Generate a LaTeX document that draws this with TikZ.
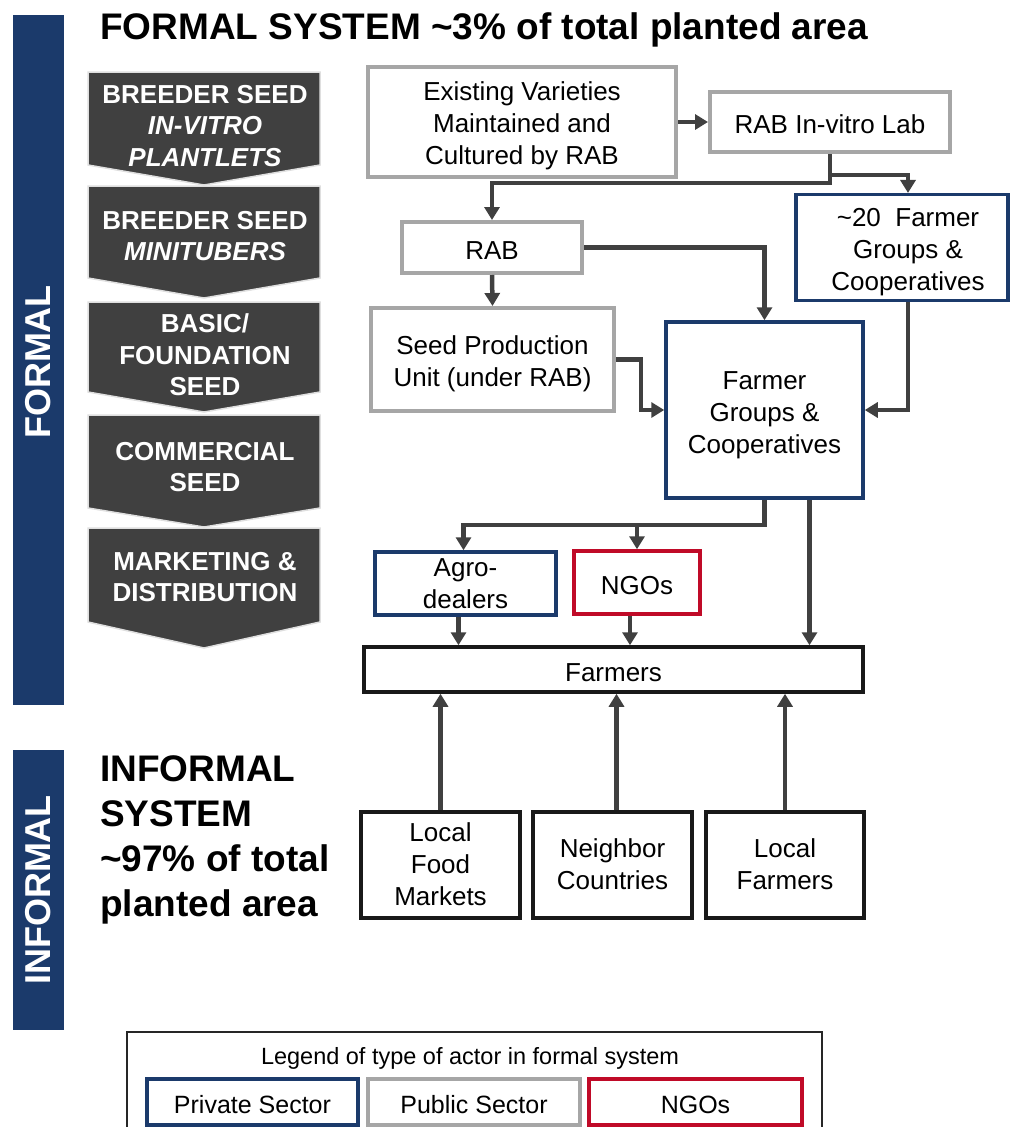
\documentclass[tikz,border=0pt]{standalone}
\usepackage{fontspec}
\setmainfont{Liberation Sans}
\usetikzlibrary{arrows.meta,calc}
\definecolor{navy}{HTML}{1B3A6B}
\definecolor{pubgray}{HTML}{A6A6A6}
\definecolor{ngored}{HTML}{C00A28}
\definecolor{chev}{HTML}{404040}
\definecolor{link}{HTML}{404040}

% centred lines of box text; the first argument sets the height of the first
% line, which lowers the block a little inside its box
\newcommand{\boxlines}[2]{\begin{tabular}{@{}c@{}}\rule{0pt}{#1}#2\end{tabular}}

\tikzset{
  actor/.style={draw, line width=3.5pt, fill=white, align=center, inner sep=0pt,
    font=\fontsize{26}{32}\selectfont},
  lowered/.style={execute at begin node={\rule{0pt}{#1}}},
  public/.style={actor, draw=pubgray, line width=4pt},
  private/.style={actor, draw=navy},
  ngo/.style={actor, draw=ngored},
  plain/.style={actor, draw=black!90},
  flow/.style={draw=link, line width=4.5pt, -{Triangle[length=13pt,width=15pt]}},
  stage/.style={fill=chev, draw=gray!25, line width=1.5pt},
  stagetext/.style={text=white, align=center, font=\bfseries\fontsize{26}{31.5}\selectfont},
  band/.style={fill=navy},
  bandtext/.style={text=white, rotate=90, font=\bfseries\fontsize{36}{40}\selectfont},
  legendbox/.style={actor, lowered=24pt, font=\fontsize{25}{30}\selectfont},
}

\begin{document}
\begin{tikzpicture}[x=1pt,y=-1pt]
\useasboundingbox (0,0) rectangle (1011,1127);
\clip (0,0) rectangle (1011,1127);

% side bands
\fill[band] (13,15) rectangle (64,705);
\fill[band] (13,750) rectangle (64,1030);
\node[bandtext] (formallbl) at (38,362) {FORMAL};
\node[bandtext] (informallbl) at (38,890) {INFORMAL};

% headings
\node[anchor=west, font=\bfseries\fontsize{37}{45}\selectfont, inner sep=0pt] (title) at (100,30)
  {FORMAL SYSTEM \textasciitilde3\% of total planted area};
\node[anchor=west, align=left, font=\bfseries\fontsize{37}{45}\selectfont, inner sep=0pt] (informal) at (100,840)
  {INFORMAL\\SYSTEM\\\textasciitilde97\% of total\\planted area};

% seed stages (chevrons)
\path[stage] (88,72)  -- (320,72)  -- (320,165) -- (204,185) -- (88,165) -- cycle;
\path[stage] (88,186) -- (320,186) -- (320,278) -- (204,298) -- (88,278) -- cycle;
\path[stage] (88,302) -- (320,302) -- (320,392) -- (204,412) -- (88,392) -- cycle;
\path[stage] (88,415) -- (320,415) -- (320,508) -- (204,527) -- (88,508) -- cycle;
\path[stage] (88,528) -- (320,528) -- (320,622) -- (204,648) -- (88,622) -- cycle;
\node[stagetext] (s1) at (205,126) {BREEDER SEED\\\textit{IN-VITRO}\\\textit{PLANTLETS}};
\node[stagetext] (s2) at (205,236) {BREEDER SEED\\\textit{MINITUBERS}};
\node[stagetext] (s3) at (205,355) {BASIC/\\FOUNDATION\\SEED};
\node[stagetext] (s4) at (205,467) {COMMERCIAL\\SEED};
\node[stagetext] (s5) at (205,577) {MARKETING \&\\DISTRIBUTION};

% actors
\node[public, minimum width=308, minimum height=110] (ev) at (522,122)
  {\boxlines{30.5pt}{Existing Varieties\\Maintained and\\Cultured by RAB}};
\node[public, lowered=24pt, minimum width=240, minimum height=60] (lab) at (830,122) {RAB In-vitro Lab};
\node[public, lowered=24pt, minimum width=180, minimum height=51] (rab) at (492,247.5) {RAB};
\node[private, minimum width=212, minimum height=95] (f20) at (902,247.5)
  {\hspace*{12pt}\boxlines{32pt}{\textasciitilde20\ \ Farmer\\Groups \&\\Cooperatives}};
\node[public, minimum width=243, minimum height=103] (seed) at (492.5,359.5)
  {\boxlines{32pt}{Seed Production\\Unit (under RAB)}};
\node[private, minimum width=197, minimum height=176] (fg) at (764.5,410)
  {\boxlines{32pt}{Farmer\\Groups \&\\Cooperatives}};
\node[private, minimum width=181, minimum height=63] (agro) at (465.5,583.5) {Agro-\\dealers};
\node[ngo, lowered=24pt, minimum width=126, minimum height=63] (ngos) at (637,582.5) {NGOs};
\node[plain, lowered=24pt, minimum width=499, minimum height=45] (farmers) at (613.5,669.5) {Farmers};
\node[plain, minimum width=159, minimum height=106] (lfm) at (440.5,865)
  {\boxlines{26.5pt}{Local\\Food\\Markets}};
\node[plain, minimum width=159, minimum height=106] (nc) at (612.5,865)
  {\boxlines{26.5pt}{Neighbor\\Countries}};
\node[plain, minimum width=158, minimum height=106] (lf) at (785,865)
  {\boxlines{26.5pt}{Local\\Farmers}};

% junctions of the branching connectors
\coordinate (labR) at (830,175);
\coordinate (labL) at (830,183);
\coordinate (seedturn) at (641,410);
\coordinate (fgsplit) at (764.5,525);

% connectors
\draw[flow] (ev.east) -- (lab.west);
\draw[flow] (lab.south) -- (labL) -| (rab.north);
\draw[flow] (labR) -| ([xshift=6pt]f20.north);
\draw[flow] (rab.east) -| (fg.north);
\draw[flow] (rab.south) -- (seed.north);
\draw[flow] (seed.east) -| (seedturn) -- (fg.west);
\draw[flow] ([xshift=6pt]f20.south) |- (fg.east);
\draw[flow] (fg.south) -- (fgsplit) -| ([xshift=-2pt]agro.north);
\draw[flow] (ngos.north |- fgsplit) -- (ngos.north);
\draw[flow] ([xshift=45pt]fg.south) -- ([xshift=45pt]fg.south |- farmers.north);
\draw[flow] ([xshift=-7pt]agro.south) -- ([xshift=-7pt]agro.south |- farmers.north);
\draw[flow] ([xshift=-7pt]ngos.south) -- ([xshift=-7pt]ngos.south |- farmers.north);
\draw[flow] (lfm.north) -- (lfm.north |- farmers.south);
\draw[flow] ([xshift=4pt]nc.north) -- ([xshift=4pt]nc.north |- farmers.south);
\draw[flow] (lf.north) -- (lf.north |- farmers.south);

% legend
\draw[line width=2pt, draw=black!85] (127,1032) rectangle (822,1160);
\node[font=\fontsize{23.5}{28}\selectfont] (legtitle) at (470,1058)
  {Legend of type of actor in formal system};
\node[legendbox, draw=navy, minimum width=211, minimum height=46] (lpriv) at (252.5,1102) {Private Sector};
\node[legendbox, draw=pubgray, minimum width=212, minimum height=46] (lpub) at (474,1102) {Public Sector};
\node[legendbox, draw=ngored, minimum width=213, minimum height=46] (lngo) at (695.5,1102) {NGOs};
\end{tikzpicture}
\end{document}
